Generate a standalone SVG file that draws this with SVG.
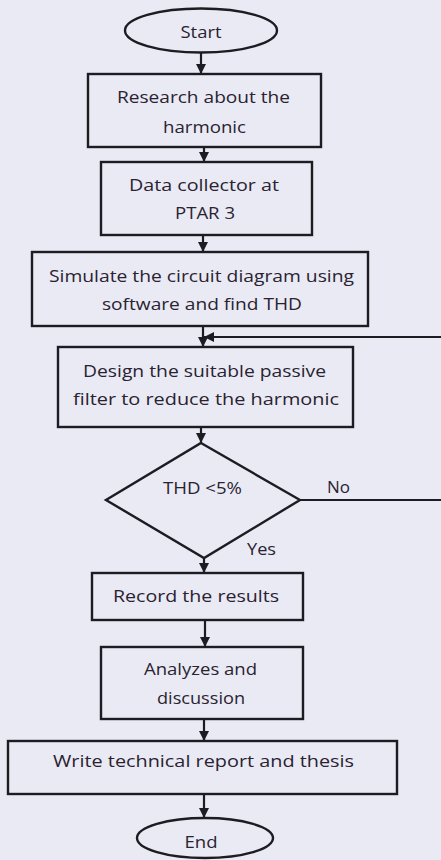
<svg xmlns="http://www.w3.org/2000/svg" width="441" height="860" viewBox="0 0 441 860">
<defs>
<marker id="arr" viewBox="0 0 10 10" refX="10" refY="5" markerWidth="10" markerHeight="10" markerUnits="userSpaceOnUse" orient="auto">
<path d="M0,0 L10,5 L0,10 Z" fill="#1c1c22"/>
</marker>
<style>
.shape{fill:none;stroke:#1c1c22;stroke-width:2.4}
.conn{fill:none;stroke:#1c1c22;stroke-width:2.2;marker-end:url(#arr)}
text{font-family:"Open Sans","Noto Sans","Liberation Sans",sans-serif;font-size:17px;fill:#2a2232;text-anchor:middle}
</style>
</defs>
<rect x="0" y="0" width="441" height="860" fill="#e9eaf3"/>
<g id="start"><ellipse class="shape" cx="201" cy="30.5" rx="76" ry="22"/><text x="201" y="38" textLength="41" lengthAdjust="spacingAndGlyphs">Start</text></g>
<g id="research"><rect class="shape" x="88" y="74" width="233" height="73"/><text x="203.5" y="103" textLength="173" lengthAdjust="spacingAndGlyphs">Research about the</text><text x="204.5" y="133" textLength="83" lengthAdjust="spacingAndGlyphs">harmonic</text></g>
<g id="data"><rect class="shape" x="101" y="162" width="211" height="73"/><text x="204" y="191" textLength="150" lengthAdjust="spacingAndGlyphs">Data collector at</text><text x="205" y="219" textLength="60" lengthAdjust="spacingAndGlyphs">PTAR 3</text></g>
<g id="simulate"><rect class="shape" x="32" y="252" width="336" height="74"/><text x="201.5" y="282" textLength="305" lengthAdjust="spacingAndGlyphs">Simulate the circuit diagram using</text><text x="202" y="310" textLength="200" lengthAdjust="spacingAndGlyphs">software and find THD</text></g>
<g id="design"><rect class="shape" x="58" y="347" width="295" height="80"/><text x="204.5" y="377" textLength="243" lengthAdjust="spacingAndGlyphs">Design the suitable passive</text><text x="206" y="405" textLength="266" lengthAdjust="spacingAndGlyphs">filter to reduce the harmonic</text></g>
<g id="decision"><polygon class="shape" points="201,443 300,500 204,558 106,500"/><text x="202.5" y="494" textLength="79" lengthAdjust="spacingAndGlyphs">THD &lt;5%</text></g>
<g id="record"><rect class="shape" x="92" y="573" width="211" height="47"/><text x="196" y="602" textLength="166" lengthAdjust="spacingAndGlyphs">Record the results</text></g>
<g id="analyze"><rect class="shape" x="101" y="647" width="202" height="72"/><text x="200.5" y="675" textLength="113" lengthAdjust="spacingAndGlyphs">Analyzes and</text><text x="201" y="704" textLength="88" lengthAdjust="spacingAndGlyphs">discussion</text></g>
<g id="write"><rect class="shape" x="8" y="741" width="389" height="53"/><text x="203.5" y="767" textLength="301" lengthAdjust="spacingAndGlyphs">Write technical report and thesis</text></g>
<g id="end"><ellipse class="shape" cx="205" cy="838" rx="68" ry="20"/><text x="201" y="848" textLength="33" lengthAdjust="spacingAndGlyphs">End</text></g>
<g id="connectors">
<line class="conn" x1="201" y1="53" x2="201" y2="74"/>
<line class="conn" x1="204" y1="147" x2="204" y2="162"/>
<line class="conn" x1="203" y1="235" x2="203" y2="252"/>
<line class="conn" x1="203" y1="326" x2="203" y2="347"/>
<line class="conn" x1="201" y1="427" x2="201" y2="443"/>
<line class="conn" x1="204" y1="558" x2="204" y2="573"/>
<line class="conn" x1="205" y1="620" x2="205" y2="647"/>
<line class="conn" x1="204" y1="719" x2="204" y2="741"/>
<line class="conn" x1="204" y1="794" x2="204" y2="818"/>
<path class="conn" d="M300,500 H446 V337 H204"/>
<text x="338.5" y="493" textLength="23" lengthAdjust="spacingAndGlyphs">No</text>
<text x="261.5" y="555" textLength="29" lengthAdjust="spacingAndGlyphs">Yes</text>
</g>
</svg>
